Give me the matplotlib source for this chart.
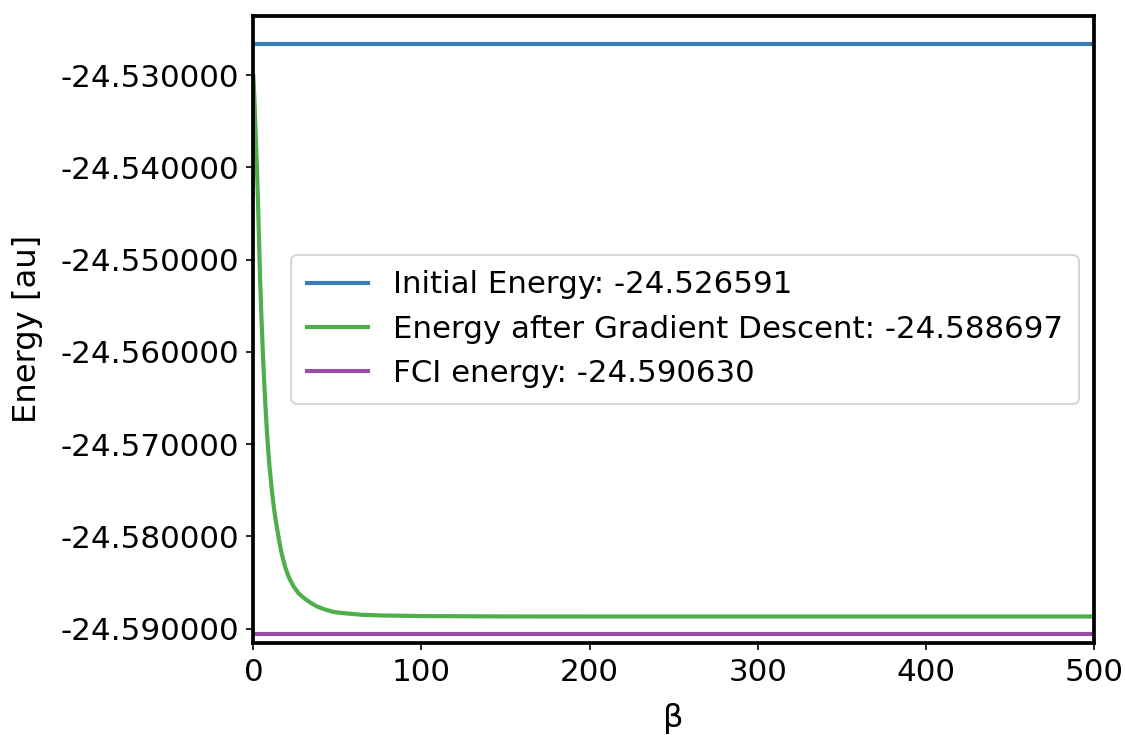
import numpy as np
import matplotlib
matplotlib.use("Agg")
import matplotlib.pyplot as plt
from matplotlib.ticker import FormatStrFormatter

# energies
initial_energy = -24.526591
gd_energy = -24.588697
fci_energy = -24.590630

# gradient descent trace (beta, energy)
beta = [0, 0.5, 1.0, 1.6, 2.2, 2.8, 3.4, 4.0, 4.8, 5.6, 6.3, 7.1, 8.0, 8.9,
        9.6, 10.4, 11.3, 12.3, 13.5, 14.9, 16.0, 17.0, 18.9, 21.0, 23.8,
        27.0, 30.8, 34.0, 37.7, 42.0, 47.6, 52.0, 57.6, 65.0, 77.4, 100,
        150, 200, 300, 400, 500]
energy = [-24.5301, -24.5320, -24.5345, -24.5375, -24.5405, -24.5440,
          -24.5480, -24.5520, -24.5562, -24.5598, -24.5627, -24.5656,
          -24.5684, -24.5708, -24.5724, -24.5739, -24.5755, -24.5770,
          -24.5785, -24.5800, -24.5811, -24.5820, -24.5833, -24.5844,
          -24.5854, -24.5862, -24.5868, -24.5872, -24.5876, -24.5879,
          -24.5882, -24.5883, -24.5884, -24.58852, -24.58859, -24.58865,
          -24.58869, -24.588697, -24.588697, -24.588697, -24.588697]

fig = plt.figure(figsize=(7.5, 4.9), dpi=150)
ax = fig.add_axes([0.2252, 0.1252, 0.9724 - 0.2252, 0.9786 - 0.1252])

ax.axhline(initial_energy, color='#377eb8', lw=2,
           label=f'Initial Energy: {initial_energy:.6f}')
ax.plot(beta, energy, color='#4daf4a', lw=2,
        label=f'Energy after Gradient Descent: {gd_energy:.6f}')
ax.axhline(fci_energy, color='#984ea3', lw=2,
           label=f'FCI energy: {fci_energy:.6f}')

ax.set_xlim(0, 500)
ax.set_ylim(-24.59157, -24.52354)
ax.set_yticks(np.arange(-24.59, -24.525, 0.01))
ax.yaxis.set_major_formatter(FormatStrFormatter('%.6f'))
ax.tick_params(labelsize=14.9)
for s in ax.spines.values():
    s.set_linewidth(1.8)

ax.set_xlabel('β', fontsize=15.5, labelpad=8)
ax.set_ylabel('Energy [au]', fontsize=15.5, labelpad=8)
ax.legend(loc='center right', fontsize=14.8, borderpad=0.5)

fig.savefig('out.png', dpi=150)
